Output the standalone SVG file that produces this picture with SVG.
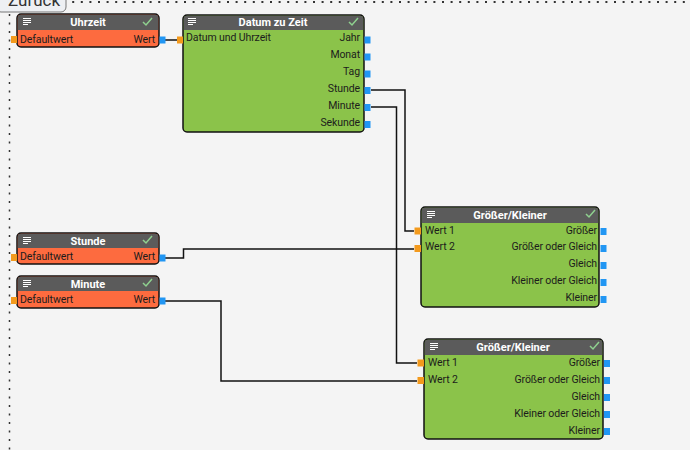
<svg xmlns="http://www.w3.org/2000/svg" width="690" height="450" viewBox="0 0 690 450">
<defs>
<style>
.bg{fill:#f4f4f4}
.box{stroke:#111;stroke-width:1.5}
.hdr{fill:#5b5b5b}
.org{fill:#fd6b3f}
.grn{fill:#8bc34a}
.ttl{font-family:Roboto,"Liberation Sans",sans-serif;font-size:11px;font-weight:bold;fill:#fff;text-anchor:middle}
.lbl{font-family:Roboto,"Liberation Sans",sans-serif;font-size:10.5px;letter-spacing:-0.1px;fill:#1c1c1c}
.r{text-anchor:end}
.pin{fill:#f39a1d}
.pout{fill:#2196f3}
.chk{fill:none;stroke:#8fd18f;stroke-width:1.5}
.ham{stroke:#fff;stroke-width:1.2}
.wire{fill:none;stroke:#111;stroke-width:1.5}
</style>
<g id="ham"><path class="ham" d="M0 0.5h8M0 2.5h8M0 4.5h8M0 6.5h5"/></g>
<path id="chkm" class="chk" d="M0 4l3 3 6-7"/>
</defs>
<rect class="bg" width="690" height="450"/>
<line x1="12" y1="2" x2="690" y2="2" stroke="#333" stroke-width="2" stroke-dasharray="2 6.6"/>
<line x1="9.5" y1="14" x2="9.5" y2="450" stroke="#333" stroke-width="1.5" stroke-dasharray="2 6.5"/>
<g id="zurueck">
<rect x="-4" y="-20" width="70" height="32" rx="5" fill="#eef0f3" stroke="#777" stroke-width="1"/>
<text x="8" y="6" font-family="Roboto,'Liberation Sans',sans-serif" font-size="17" fill="#333">Zurück</text>
</g>
<g id="connectors">
<path class="wire" d="M165 40H177"/>
<path class="wire" d="M371 90H405V231H414"/>
<path class="wire" d="M371 107H396.5V363H417"/>
<path class="wire" d="M165 258H183.5V249H414"/>
<path class="wire" d="M165 301H221V381H417"/>
</g>
<g id="uhrzeit">
<rect class="box org" x="17" y="14" width="142" height="33" rx="4"/>
<path class="hdr" d="M21 14.75h134a3.25 3.25 0 0 1 3.25 3.25V30H17.75V18a3.25 3.25 0 0 1 3.25-3.25z"/>
<use href="#ham" x="23" y="18"/>
<text class="ttl" x="88" y="26">Uhrzeit</text>
<use href="#chkm" x="143" y="18"/>
<text class="lbl" x="20" y="43">Defaultwert</text>
<text class="lbl r" x="155" y="43">Wert</text>
<rect class="pin" x="11" y="36" width="6" height="7"/>
<rect class="pout" x="159.5" y="36.5" width="6" height="7"/>
</g>
<g id="datum">
<rect class="box grn" x="183" y="15" width="181" height="117" rx="4"/>
<path class="hdr" d="M187 15.75h173a3.25 3.25 0 0 1 3.25 3.25V30H183.75V19a3.25 3.25 0 0 1 3.25-3.25z"/>
<use href="#ham" x="188" y="18"/>
<text class="ttl" x="273" y="26">Datum zu Zeit</text>
<use href="#chkm" x="349" y="18"/>
<text class="lbl" x="186" y="41">Datum und Uhrzeit</text>
<text class="lbl r" x="360" y="41">Jahr</text>
<text class="lbl r" x="360" y="58">Monat</text>
<text class="lbl r" x="360" y="75">Tag</text>
<text class="lbl r" x="360" y="92">Stunde</text>
<text class="lbl r" x="360" y="109">Minute</text>
<text class="lbl r" x="360" y="126">Sekunde</text>
<rect class="pin" x="177" y="36.5" width="6" height="7"/>
<rect class="pout" x="364.5" y="36.5" width="6" height="7"/>
<rect class="pout" x="364.5" y="53.5" width="6" height="7"/>
<rect class="pout" x="364.5" y="70.5" width="6" height="7"/>
<rect class="pout" x="364.5" y="87" width="6" height="7"/>
<rect class="pout" x="364.5" y="104" width="6" height="7"/>
<rect class="pout" x="364.5" y="121" width="6" height="7"/>
</g>
<g id="stunde">
<rect class="box org" x="17" y="233" width="142" height="31" rx="4"/>
<path class="hdr" d="M21 233.75h134a3.25 3.25 0 0 1 3.25 3.25V248H17.75V237a3.25 3.25 0 0 1 3.25-3.25z"/>
<use href="#ham" x="23" y="237"/>
<text class="ttl" x="88" y="245">Stunde</text>
<use href="#chkm" x="143" y="236"/>
<text class="lbl" x="20" y="260">Defaultwert</text>
<text class="lbl r" x="155" y="260">Wert</text>
<rect class="pin" x="11" y="254" width="6" height="7"/>
<rect class="pout" x="159.5" y="254.5" width="6" height="7"/>
</g>
<g id="minute">
<rect class="box org" x="17" y="276" width="142" height="32" rx="4"/>
<path class="hdr" d="M21 276.75h134a3.25 3.25 0 0 1 3.25 3.25V291H17.75V280a3.25 3.25 0 0 1 3.25-3.25z"/>
<use href="#ham" x="23" y="280"/>
<text class="ttl" x="88" y="288">Minute</text>
<use href="#chkm" x="143" y="279"/>
<text class="lbl" x="20" y="303">Defaultwert</text>
<text class="lbl r" x="155" y="303">Wert</text>
<rect class="pin" x="11" y="297" width="6" height="7"/>
<rect class="pout" x="159.5" y="297.5" width="6" height="7"/>
</g>
<g id="vergleich1">
<rect class="box grn" x="421" y="207" width="178" height="100" rx="4"/>
<path class="hdr" d="M425 207.75h170a3.25 3.25 0 0 1 3.25 3.25V223H421.75V211a3.25 3.25 0 0 1 3.25-3.25z"/>
<use href="#ham" x="427" y="211"/>
<text class="ttl" x="510" y="219">Größer/Kleiner</text>
<use href="#chkm" x="586" y="210"/>
<text class="lbl" x="425" y="234">Wert 1</text>
<text class="lbl" x="425" y="250">Wert 2</text>
<text class="lbl r" x="597" y="234">Größer</text>
<text class="lbl r" x="597" y="250">Größer oder Gleich</text>
<text class="lbl r" x="597" y="267">Gleich</text>
<text class="lbl r" x="597" y="284">Kleiner oder Gleich</text>
<text class="lbl r" x="597" y="301">Kleiner</text>
<rect class="pin" x="414.5" y="227.5" width="6.5" height="7"/>
<rect class="pin" x="414.5" y="245" width="6.5" height="7"/>
<rect class="pout" x="600.5" y="228" width="6" height="7"/>
<rect class="pout" x="600.5" y="245" width="6" height="7"/>
<rect class="pout" x="600.5" y="262" width="6" height="7"/>
<rect class="pout" x="600.5" y="279" width="6" height="7"/>
<rect class="pout" x="600.5" y="296" width="6" height="7"/>
</g>
<g id="vergleich2">
<rect class="box grn" x="424" y="339" width="179" height="100" rx="4"/>
<path class="hdr" d="M428 339.75h171a3.25 3.25 0 0 1 3.25 3.25V355H424.75V343a3.25 3.25 0 0 1 3.25-3.25z"/>
<use href="#ham" x="430" y="343"/>
<text class="ttl" x="513" y="351">Größer/Kleiner</text>
<use href="#chkm" x="590" y="342"/>
<text class="lbl" x="428" y="366">Wert 1</text>
<text class="lbl" x="428" y="383">Wert 2</text>
<text class="lbl r" x="600" y="366">Größer</text>
<text class="lbl r" x="600" y="383">Größer oder Gleich</text>
<text class="lbl r" x="600" y="400">Gleich</text>
<text class="lbl r" x="600" y="417">Kleiner oder Gleich</text>
<text class="lbl r" x="600" y="434">Kleiner</text>
<rect class="pin" x="417.5" y="359.5" width="6.5" height="7"/>
<rect class="pin" x="417.5" y="377" width="6.5" height="7"/>
<rect class="pout" x="604" y="360" width="6" height="7"/>
<rect class="pout" x="604" y="377" width="6" height="7"/>
<rect class="pout" x="604" y="394" width="6" height="7"/>
<rect class="pout" x="604" y="411" width="6" height="7"/>
<rect class="pout" x="604" y="428" width="6" height="7"/>
</g>
</svg>
